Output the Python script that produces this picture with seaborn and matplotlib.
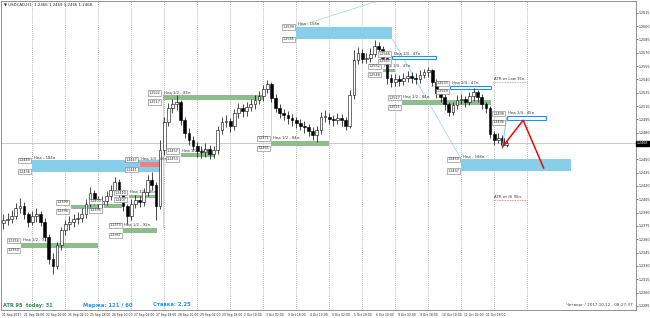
import matplotlib
matplotlib.use("Agg")
import matplotlib.pyplot as plt
import seaborn as sns
import pandas as pd
import numpy as np
from matplotlib.patches import Rectangle

sns.set_style("white")
plt.rcParams['font.family'] = ['DejaVu Sans']

# ---------------- data ----------------
bar_hours = 3
first_open = 1.2378
closes = [1.2382, 1.2383, 1.2386, 1.2395, 1.2398, 1.2388, 1.2380, 1.2386, 1.2388, 1.2380,
          1.2363, 1.2338, 1.2330, 1.2353, 1.2370, 1.2377, 1.2379, 1.2383, 1.2384, 1.2388,
          1.2400, 1.2412, 1.2405, 1.2400, 1.2403, 1.2409, 1.2415, 1.2425, 1.2413, 1.2397,
          1.2386, 1.2400, 1.2404, 1.2402, 1.2413, 1.2427, 1.2421, 1.2398, 1.2460, 1.2492,
          1.2508, 1.2512, 1.2514, 1.2494, 1.2480, 1.2472, 1.2465, 1.2459, 1.2458, 1.2462,
          1.2456, 1.2460, 1.2483, 1.2492, 1.2493, 1.2487, 1.2502, 1.2508, 1.2504, 1.2509,
          1.2512, 1.2517, 1.2521, 1.2529, 1.2535, 1.2519, 1.2508, 1.2502, 1.2500, 1.2496,
          1.2494, 1.2491, 1.2488, 1.2486, 1.2482, 1.2477, 1.2483, 1.2498, 1.2498, 1.2495,
          1.2494, 1.2496, 1.2494, 1.2488, 1.2522, 1.2562, 1.2570, 1.2563, 1.2564, 1.2569,
          1.2578, 1.2574, 1.2564, 1.2541, 1.2537, 1.2540, 1.2538, 1.2541, 1.2544, 1.2542,
          1.2540, 1.2545, 1.2548, 1.2550, 1.2537, 1.2525, 1.2520, 1.2512, 1.2503, 1.2511,
          1.2517, 1.2518, 1.2515, 1.2521, 1.2526, 1.2520, 1.2512, 1.2508, 1.2479, 1.2472,
          1.2474, 1.2466, 1.2468]
highs = [1.2388, 1.2390, 1.2393, 1.2401, 1.2406, 1.2402, 1.2391, 1.2392, 1.2395, 1.2392,
         1.2384, 1.2366, 1.2345, 1.2357, 1.2374, 1.2382, 1.2386, 1.2389, 1.2391, 1.2395,
         1.2405, 1.2419, 1.2415, 1.2409, 1.2409, 1.2414, 1.2421, 1.2430, 1.2428, 1.2416,
         1.2400, 1.2405, 1.2410, 1.2409, 1.2418, 1.2432, 1.2436, 1.2425, 1.2472, 1.2498,
         1.2513, 1.2518, 1.2522, 1.2517, 1.2498, 1.2485, 1.2476, 1.2469, 1.2465, 1.2468,
         1.2466, 1.2465, 1.2488, 1.2498, 1.2500, 1.2497, 1.2507, 1.2513, 1.2512, 1.2514,
         1.2518, 1.2522, 1.2527, 1.2534, 1.2539, 1.2537, 1.2523, 1.2512, 1.2507, 1.2504,
         1.2501, 1.2498, 1.2495, 1.2493, 1.2490, 1.2486, 1.2488, 1.2503, 1.2505, 1.2502,
         1.2500, 1.2502, 1.2501, 1.2498, 1.2528, 1.2573, 1.2576, 1.2574, 1.2570, 1.2575,
         1.2584, 1.2582, 1.2578, 1.2567, 1.2546, 1.2546, 1.2545, 1.2547, 1.2549, 1.2548,
         1.2547, 1.2550, 1.2552, 1.2554, 1.2552, 1.2540, 1.2528, 1.2524, 1.2515, 1.2515,
         1.2522, 1.2524, 1.2521, 1.2526, 1.2530, 1.2528, 1.2523, 1.2515, 1.2510, 1.2482,
         1.2480, 1.2477, 1.2471]
lows = [1.2372, 1.2376, 1.2378, 1.2383, 1.2390, 1.2383, 1.2374, 1.2376, 1.2380, 1.2375,
        1.2358, 1.2332, 1.2321, 1.2327, 1.2348, 1.2365, 1.2371, 1.2374, 1.2377, 1.2379,
        1.2384, 1.2396, 1.2399, 1.2393, 1.2395, 1.2399, 1.2404, 1.2411, 1.2408, 1.2392,
        1.2377, 1.2382, 1.2395, 1.2396, 1.2398, 1.2409, 1.2415, 1.2382, 1.2394, 1.2455,
        1.2487, 1.2502, 1.2506, 1.2489, 1.2474, 1.2466, 1.2460, 1.2453, 1.2452, 1.2453,
        1.2450, 1.2451, 1.2456, 1.2478, 1.2486, 1.2481, 1.2483, 1.2497, 1.2498, 1.2499,
        1.2504, 1.2507, 1.2512, 1.2516, 1.2525, 1.2514, 1.2503, 1.2496, 1.2494, 1.2490,
        1.2488, 1.2485, 1.2483, 1.2480, 1.2476, 1.2472, 1.2469, 1.2479, 1.2492, 1.2490,
        1.2488, 1.2490, 1.2488, 1.2483, 1.2485, 1.2518, 1.2557, 1.2558, 1.2558, 1.2560,
        1.2565, 1.2568, 1.2559, 1.2535, 1.2531, 1.2532, 1.2532, 1.2534, 1.2537, 1.2536,
        1.2535, 1.2536, 1.2541, 1.2543, 1.2532, 1.2519, 1.2514, 1.2506, 1.2499, 1.2500,
        1.2507, 1.2512, 1.2509, 1.2511, 1.2516, 1.2515, 1.2507, 1.2502, 1.2474, 1.2466,
        1.2468, 1.2463, 1.2464]

time_labels = ["21 Sep 2017", "21 Sep 18:00", "22 Sep 10:00", "25 Sep 02:00", "25 Sep 18:00",
               "26 Sep 10:00", "27 Sep 02:00", "27 Sep 18:00", "28 Sep 10:00", "29 Sep 02:00",
               "29 Sep 18:00", "2 Oct 10:00", "3 Oct 02:00", "3 Oct 18:00", "4 Oct 10:00",
               "5 Oct 02:00", "5 Oct 18:00", "6 Oct 10:00", "9 Oct 02:00", "9 Oct 18:00",
               "10 Oct 10:00", "11 Oct 02:00", "11 Oct 18:00"]
price_ticks = [1.2615, 1.2600, 1.2585, 1.2570, 1.2555, 1.2540, 1.2525, 1.2510, 1.2495,
               1.2480, 1.2465, 1.2450, 1.2435, 1.2420, 1.2405, 1.2390, 1.2375, 1.2360,
               1.2345, 1.2330, 1.2315, 1.2300, 1.2285]

# zones (time in hours from first bar, price levels)
zone_kind = ['blue', 'blue', 'pink', 'blue',
             'green', 'green', 'green', 'green', 'green', 'green', 'green', 'green', 'green', 'green',
             'frame', 'frame', 'frame']
zone_start = [214, 22, 100, 334, 117, 196, 291, 277, 14, 88, 50, 74, 92, 130, 284, 326, 367]
zone_end = [284, 116, 116, 414, 190, 238, 356, 286, 70, 113, 70, 87, 113, 155, 316, 356, 396]
zone_top = [1.2599, 1.2449, 1.2447, 1.2450, 1.2522, 1.2471, 1.2517, 1.2552, 1.2356, 1.2373,
            1.2399, 1.2400, 1.2410, 1.2457, 1.2566, 1.2533, 1.2499]
zone_bottom = [1.2585, 1.2436, 1.2441, 1.2437, 1.2517, 1.2465, 1.2511, 1.2548, 1.2350, 1.2367,
               1.2394, 1.2395, 1.2407, 1.2453, 1.2563, 1.2529, 1.2494]
zone_text = ["Нед - 158п.", "Нед - 184п.", "Нед 1/4 - 46п.", "Нед - 188п.",
             "Нед 1/2 - 93п.", "Нед 1/2 - 84п.", "Нед 1/2 - 84п.", "Нед 1/4 - 47п.",
             "Нед 1/2 - 91п.", "Нед 1/2 - 92п.", "", "", "Нед 1/4 - 46п.",
             "Нед 1/2 - 84п.", "Нед 1/4 - 47п.", "Нед 1/4 - 47п.", "Нед 1/4 - 45п."]

forecast_t = [364, 379, 394]
forecast_p = [1.2464, 1.2494, 1.2440]
target_t = [364, 367]
target_p = [1.2464, 1.2497]

atr_low_level = 1.2537
atr_high_level = 1.2404
bid = 1.2468

# ---------------- figure ----------------
W, H = 650, 318
fig = plt.figure(figsize=(W / 100, H / 100), dpi=100)
ax = fig.add_axes([1 / W, 8 / H, 635 / W, 309 / H])
ax.set_xlim(-0.73, 461.1)
ax.set_ylim(1.22804, 1.26282)

n = len(closes)
opens = [first_open] + closes[:-1]
df = pd.DataFrame(dict(t=np.arange(n) * bar_hours + 1, open=opens, close=closes,
                       high=highs, low=lows))

# day grid
day_lines = [22 + 24 * k for k in range(16)]
ax.vlines(day_lines, 1.2270, 1.2640, colors='#a0a0a0', linestyles=(0, (1, 1.5)), lw=0.6, zorder=0)

# zones
fill_colors = {'blue': '#87CEEB', 'pink': '#F08080', 'green': '#8FBC8F'}
for k, s, e, tp, bt, txt in zip(zone_kind, zone_start, zone_end, zone_top, zone_bottom, zone_text):
    if k == 'frame':
        ax.add_patch(Rectangle((s, bt), e - s, tp - bt, facecolor='white', edgecolor='#1E90FF',
                               lw=0.8, zorder=2))
    else:
        ax.add_patch(Rectangle((s, bt), e - s, tp - bt, facecolor=fill_colors[k],
                               edgecolor='none', zorder=1 if k == 'blue' else 2))
    if txt:
        ax.text(s + 1, tp + 0.00012, txt, fontsize=2.7, color='#333333', va='bottom', ha='left',
                zorder=6)
    # price boxes
    if k == 'blue':
        ys = [(tp, tp, 'center'), (bt, bt, 'center')]
    else:
        ys = [(tp + 0.00003, tp, 'bottom'), (bt - 0.00003, bt, 'top')]
    for yv, val, va in ys:
        ax.text(s - 1.5, yv, f"{val:.4f}", fontsize=2.4,
                color='#222222', ha='right', va=va, zorder=7,
                bbox=dict(boxstyle='square,pad=0.2', fc='white', ec='#777777', lw=0.4))

# connector lines
ax.plot([214, 275], [1.2599, 1.2629], color='#b8dcb8', lw=0.6, zorder=1)
ax.plot([284, 334], [1.2585, 1.2450], color='#a8d8ee', lw=0.6, zorder=1)
ax.plot([117, 117], [1.2517, 1.2373], color='#b8dcb8', lw=0.6, zorder=1)
ax.plot([196, 196], [1.2517, 1.2465], color='#b8dcb8', lw=0.6, zorder=1)

# current price line
ax.axhline(bid, color='#c0c0c0', lw=0.6, zorder=1)

# candles
up = df.close >= df.open
ax.vlines(df.t, df.low, df.high, colors='black', lw=0.5, zorder=3)
body_lo = np.minimum(df.open, df.close)
body_h = np.maximum(np.abs(df.close - df.open), 0.00004)
ax.bar(df.t[up], body_h[up], bottom=body_lo[up], width=2.0, color='white',
       edgecolor='black', lw=0.4, zorder=4)
ax.bar(df.t[~up], body_h[~up], bottom=body_lo[~up], width=2.0, color='black',
       edgecolor='black', lw=0.4, zorder=4)

# projections
sns.lineplot(x=target_t, y=target_p, color='#87CEEB', lw=0.8, ax=ax, sort=False, zorder=5)
sns.lineplot(x=forecast_t, y=forecast_p, color='#FF0000', lw=1.1, ax=ax, sort=False, zorder=5)

# ATR levels
ax.plot([357, 382], [atr_low_level, atr_low_level], color='#999999', lw=0.6, ls=(0, (1, 1)), zorder=2)
ax.text(358, atr_low_level + 0.0001, "ATR от Low 95п.", fontsize=2.7, color='#333333',
        va='bottom', ha='left')
ax.plot([357, 382], [atr_high_level, atr_high_level], color='#ff6666', lw=0.6, ls=(0, (1, 1)), zorder=2)
ax.text(358, atr_high_level + 0.0001, "ATR от Hi 95п.", fontsize=2.7, color='#333333',
        va='bottom', ha='left')

# axes styling
for sp in ax.spines.values():
    sp.set_color('#808080')
    sp.set_linewidth(0.6)
ax.yaxis.tick_right()
ax.set_yticks(price_ticks)
ax.set_yticklabels([f"{p:.4f}" for p in price_ticks])
ax.tick_params(axis='y', length=1.5, width=0.4, pad=0.6, labelsize=2.3, colors='#222222')
ax.set_xticks([16 * k for k in range(len(time_labels))])
ax.set_xticklabels(time_labels, ha='left')
ax.tick_params(axis='x', length=1.5, width=0.4, pad=0.8, labelsize=2.2, colors='#222222')
ax.set_xlabel('')
ax.set_ylabel('')

# bid label
ax.text(1.0015, bid, f"{bid:.4f}", transform=ax.get_yaxis_transform(), fontsize=2.3,
        color='white', va='center', ha='left', zorder=10,
        bbox=dict(boxstyle='square,pad=0.2', fc='black', ec='black'))

# overlay texts
fig.text(4 / W, 1 - 5 / H, "▼ USDCAD,H1  1.2466 1.2469 1.2466 1.2468", fontsize=2.8,
         color='#222222', va='center', ha='left')
fig.text(3 / W, 1 - 305 / H, "ATR 95  today: 31", fontsize=3.6, color='#2E8B57',
         fontweight='bold', va='center', ha='left')
fig.text(83 / W, 1 - 305 / H, "Маржа: 121 / 60", fontsize=3.8, color='#1E90FF',
         fontweight='bold', va='center', ha='left')
fig.text(153 / W, 1 - 305 / H, "Ставка: 2.25", fontsize=3.8, color='#1E90FF',
         fontweight='bold', va='center', ha='left')
fig.text(633 / W, 1 - 305 / H, "Четверг / 2017.10.12 - 08:27:37", fontsize=3.0,
         color='#444444', va='center', ha='right')

fig.savefig("out.png", dpi=100)
